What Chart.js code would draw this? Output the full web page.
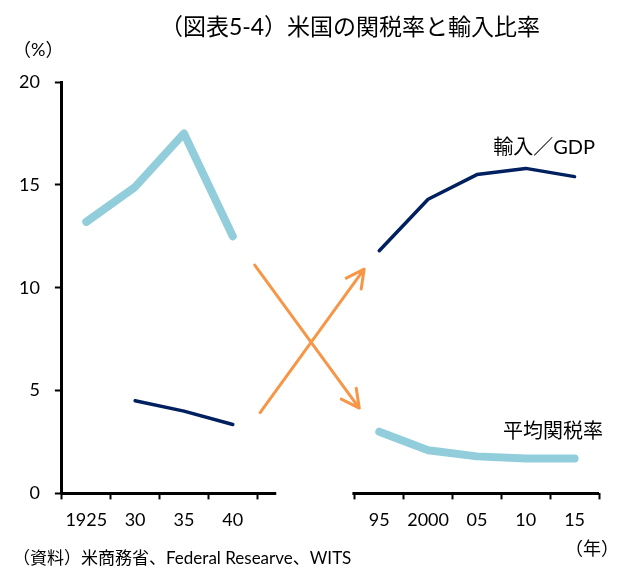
<!DOCTYPE html>
<html lang="ja">
<head>
<meta charset="utf-8">
<title>米国の関税率と輸入比率</title>
<script src="https://cdn.jsdelivr.net/npm/chart.js@4.4.1/dist/chart.umd.min.js"></script>
<style>
  html, body { margin: 0; padding: 0; background: #fff; }
</style>
</head>
<body>
<canvas id="c" width="619" height="572"></canvas>
<script>
// two year blocks (1925-40, 95-2015) with two empty slots for the break
const YEARS = ['1925', '30', '35', '40', '', '', '95', '2000', '05', '10', '15'];
const TARIFF = [13.2, 14.9, 17.5, 12.5, null, null, 3.0, 2.1, 1.8, 1.7, 1.7];
const IMPORT_GDP = [null, 4.5, 4.0, 3.35, null, null, 11.8, 14.3, 15.5, 15.8, 15.4];
const Y_MIN = 0, Y_MAX = 20, Y_STEP = 5;
// crossing arrows in data units: [category index, %]
const ARROWS = [
  { from: [3.45, 11.1], to: [5.59, 4.15] },
  { from: [3.56, 3.93], to: [5.69, 10.9] }
];

const FONT = "Lato, 'Noto Sans CJK JP', sans-serif";
const LIGHT = '#92CDDC';
const NAVY = '#002060';
const ORANGE = '#F79646';

function arrow(ctx, x1, y1, x2, y2) {
  const a = Math.atan2(y2 - y1, x2 - x1);
  const len = 20, spread = 0.48;
  ctx.beginPath();
  ctx.moveTo(x1, y1);
  ctx.lineTo(x2, y2);
  ctx.moveTo(x2 - len * Math.cos(a - spread), y2 - len * Math.sin(a - spread));
  ctx.lineTo(x2, y2);
  ctx.lineTo(x2 - len * Math.cos(a + spread), y2 - len * Math.sin(a + spread));
  ctx.stroke();
}

const decorations = {
  id: 'decorations',
  afterDatasetsDraw(chart) {
    const { ctx, chartArea } = chart;
    const x = chart.scales.x, y = chart.scales.y;
    ctx.save();

    // broken x axis
    ctx.strokeStyle = '#000';
    ctx.lineWidth = 3;
    ctx.lineCap = 'butt';
    ctx.beginPath();
    ctx.moveTo(chartArea.left - 1.5, chartArea.bottom);
    ctx.lineTo(x.getPixelForValue(3.89), chartArea.bottom);
    ctx.moveTo(x.getPixelForValue(5.45), chartArea.bottom);
    ctx.lineTo(chartArea.right, chartArea.bottom);
    ctx.stroke();

    // orange arrows
    ctx.strokeStyle = ORANGE;
    ctx.lineWidth = 3;
    ctx.lineCap = 'round';
    ctx.lineJoin = 'round';
    ARROWS.forEach(a => arrow(ctx,
      x.getPixelForValue(a.from[0]), y.getPixelForValue(a.from[1]),
      x.getPixelForValue(a.to[0]), y.getPixelForValue(a.to[1])));

    // series labels
    ctx.fillStyle = '#000';
    ctx.font = '20px ' + FONT;
    ctx.textAlign = 'right';
    ctx.textBaseline = 'middle';
    ctx.fillText('輸入／GDP', chartArea.right - 4, y.getPixelForValue(16.8));
    ctx.fillText('平均関税率', chartArea.right + 4, y.getPixelForValue(3.0));

    // title, units and source
    ctx.font = '23px ' + FONT;
    ctx.textAlign = 'center';
    ctx.fillText('（図表5-4）米国の関税率と輸入比率', 350, 28);
    ctx.font = '18px ' + FONT;
    ctx.textAlign = 'left';
    ctx.fillText('（%）', 13, 50);
    ctx.textAlign = 'right';
    ctx.fillText('（年）', 619, 549);
    ctx.font = '17px ' + FONT;
    ctx.textAlign = 'left';
    ctx.fillText('（資料）米商務省、Federal Researve、WITS', 13, 559);
    ctx.restore();
  }
};

new Chart(document.getElementById('c'), {
  type: 'line',
  data: {
    labels: YEARS,
    datasets: [
      {
        label: '平均関税率',
        data: TARIFF,
        borderColor: LIGHT,
        borderWidth: 8,
        borderCapStyle: 'round',
        borderJoinStyle: 'round',
        pointRadius: 0,
        spanGaps: false
      },
      {
        label: '輸入／GDP',
        data: IMPORT_GDP,
        borderColor: NAVY,
        borderWidth: 3.5,
        borderCapStyle: 'round',
        borderJoinStyle: 'round',
        pointRadius: 0,
        spanGaps: false
      }
    ]
  },
  options: {
    responsive: false,
    animation: false,
    devicePixelRatio: 1,
    layout: { padding: { left: 4, right: 20, top: 82, bottom: 31 } },
    plugins: { legend: { display: false }, tooltip: { enabled: false }, title: { display: false } },
    scales: {
      x: {
        offset: true,
        border: { display: false },
        grid: {
          offset: true,
          drawOnChartArea: false,
          drawTicks: true,
          tickLength: 6,
          tickWidth: 2,
          tickColor: c => c.index === 5 ? 'rgba(0,0,0,0)' : '#000'
        },
        ticks: { color: '#000', font: { family: FONT, size: 18 }, padding: 10, maxRotation: 0, autoSkip: false }
      },
      y: {
        min: Y_MIN,
        max: Y_MAX,
        border: { display: true, color: '#000', width: 3 },
        grid: { drawOnChartArea: false, tickLength: 7, tickWidth: 2, tickColor: '#000' },
        ticks: { stepSize: Y_STEP, color: '#000', font: { family: FONT, size: 18 }, padding: 15 }
      }
    }
  },
  plugins: [decorations]
});
</script>
</body>
</html>
